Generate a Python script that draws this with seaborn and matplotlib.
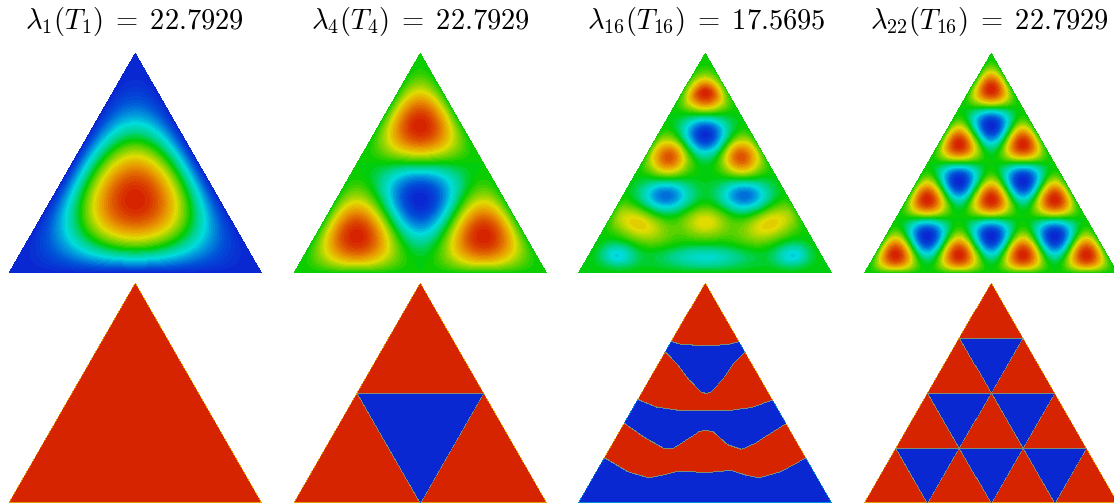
# Eigenfunctions on the equilateral triangle (top) and their sign pattern (bottom)
import numpy as np
import matplotlib
matplotlib.use('Agg')
import matplotlib.pyplot as plt
import seaborn as sns

W, H = 1114, 503
plt.rcParams['mathtext.fontset'] = 'cm'

titles = [r'$\lambda_1(T_1)\;=\;22.7929$', r'$\lambda_4(T_4)\;=\;22.7929$',
          r'$\lambda_{16}(T_{16})\;=\;17.5695$', r'$\lambda_{22}(T_{16})\;=\;22.7929$']
title_x = [134, 420, 706, 989]

# left edge of each triangle in pixels, and the top/bottom of each row
left_px = [8, 293, 578, 864]
side_px = 254
top_rows = (52, 273)
bottom_rows = (282, 503)

# lobes: x, y as fractions of base and height, sign
t1_x = [0.5]
t1_y = [0.333]
t1_amp = [1]
t1_up = [True]
t1_side = 1.0

t4_x = [0.5, 0.25, 0.5, 0.75]
t4_y = [0.667, 0.167, 0.333, 0.167]
t4_amp = [1, 1, -1, 1]
t4_up = [True, True, False, True]
t4_side = 0.5

t22_x = [0.125, 0.375, 0.625, 0.875, 0.25, 0.5, 0.75, 0.25, 0.5, 0.75,
         0.375, 0.625, 0.375, 0.625, 0.5, 0.5]
t22_y = [0.083, 0.083, 0.083, 0.083, 0.167, 0.167, 0.167, 0.333, 0.333, 0.333,
         0.417, 0.417, 0.583, 0.583, 0.667, 0.833]
t22_amp = [1, 1, 1, 1, -1, -1, -1, 1, 1, 1, -1, -1, 1, 1, -1, 1]
t22_up = [True, True, True, True, False, False, False, True, True, True,
          False, False, True, True, False, True]
t22_side = 0.25

# the lambda_16 mode has soft lobes: x, y, amplitude, widths, tilt in degrees
t16_x = [0.5, 0.5, 0.36, 0.64, 0.347, 0.654, 0.238, 0.5, 0.755, 0.154, 0.5, 0.846]
t16_y = [0.814, 0.625, 0.526, 0.526, 0.352, 0.352, 0.224, 0.231, 0.224, 0.08, 0.073, 0.08]
t16_amp = [1.0, -1.0, 0.85, 0.85, -0.72, -0.72, 0.46, 0.42, 0.46, -0.42, -0.36, -0.42]
t16_sx = [0.055, 0.06, 0.052, 0.052, 0.065, 0.065, 0.085, 0.065, 0.085, 0.05, 0.12, 0.05]
t16_sy = [0.06, 0.06, 0.06, 0.06, 0.05, 0.05, 0.05, 0.05, 0.05, 0.038, 0.035, 0.038]
t16_tilt = [0, 0, -20, 20, 0, 0, -28, 0, 28, 0, 0, 0]

# nodal lines of lambda_16, from apex to base
node1_x = [0.371, 0.408, 0.500, 0.587, 0.632]
node1_y = [0.733, 0.721, 0.715, 0.720, 0.733]
node2_x = [0.345, 0.392, 0.441, 0.483, 0.503, 0.524, 0.573, 0.615, 0.655]
node2_y = [0.686, 0.630, 0.555, 0.505, 0.499, 0.505, 0.570, 0.641, 0.683]
node3_x = [0.238, 0.308, 0.406, 0.503, 0.587, 0.685, 0.762]
node3_y = [0.471, 0.438, 0.421, 0.423, 0.421, 0.436, 0.468]
node4_x = [0.185, 0.266, 0.336, 0.371, 0.420, 0.476, 0.503, 0.531, 0.587, 0.643, 0.699, 0.755, 0.818]
node4_y = [0.362, 0.297, 0.252, 0.248, 0.282, 0.327, 0.332, 0.325, 0.267, 0.246, 0.275, 0.317, 0.362]
node5_x = [0.108, 0.196, 0.280, 0.336, 0.399, 0.503, 0.601, 0.657, 0.713, 0.797, 0.895]
node5_y = [0.206, 0.145, 0.117, 0.130, 0.148, 0.141, 0.151, 0.130, 0.117, 0.145, 0.206]
node_x = [node1_x, node2_x, node3_x, node4_x, node5_x]
node_y = [node1_y, node2_y, node3_y, node4_y, node5_y]

jet_stops = ['#0a28d2', '#0050d8', '#0090dc', '#00dcdc', '#00d28c', '#00cd00',
             '#78d200', '#e0dc00', '#e8a000', '#e06000', '#d62400']
cmap_levels = sns.blend_palette(jet_stops, n_colors=48)
node_color = '#7f8c78'


def triangle_grid(n=2):
    nx = side_px * n
    ny = 221 * n
    xs = (np.arange(nx) + 0.5) / nx
    ys = 1 - (np.arange(ny) + 0.5) / ny
    X, Y = np.meshgrid(xs, ys)
    mask = (Y > 2 * X) | (Y > 2 * (1 - X))
    return X, Y, mask


def cell_field(X, Y, xs, ys, amps, ups, side):
    # every lobe fills one small triangular cell with the first mode
    out = np.zeros_like(X)
    for cx, cy, amp, up in zip(xs, ys, amps, ups):
        if up:
            a = (Y - cy) / side + 1 / 3
        else:
            a = (cy - Y) / side + 1 / 3
        b = (X - cx) / side + (1 - a) / 2
        c = 1 - a - b
        inside = (a >= 0) & (b >= 0) & (c >= 0)
        u = np.sin(np.pi * a) * np.sin(np.pi * b) * np.sin(np.pi * c) / 0.6495
        out[inside] = amp * u[inside]
    return out


def soft_field(X, Y):
    out = np.zeros_like(X)
    for cx, cy, amp, sx, sy, tilt in zip(t16_x, t16_y, t16_amp, t16_sx, t16_sy, t16_tilt):
        t = np.radians(tilt)
        u = (X - cx) * np.cos(t) + (Y - cy) * np.sin(t)
        v = -(X - cx) * np.sin(t) + (Y - cy) * np.cos(t)
        out += amp * np.exp(-(u / sx) ** 2 / 2 - (v / sy) ** 2 / 2)
    # fades to zero on the triangle's sides only
    a = Y
    b = np.clip(X - Y / 2, 0, 1)
    c = np.clip(1 - a - b, 0, 1)
    return out * np.clip(6 * 27 * a * b * c, 0, 1) ** 0.5


def node_labels(X, Y):
    # count how many nodal lines lie above a point: even is red, odd is blue
    count = np.zeros_like(X, dtype=int)
    for lx, ly in zip(node_x, node_y):
        count += Y < np.interp(X, lx, ly)
    return np.where(count % 2 == 0, 1.0, -1.0)


def draw(field, mask, left, rows, vmin=-1):
    ax = fig.add_axes([left / W, 1 - rows[1] / H, side_px / W, (rows[1] - rows[0]) / H])
    sns.heatmap(field, mask=mask, cmap=cmap_levels, vmin=vmin, vmax=1, cbar=False,
                xticklabels=False, yticklabels=False, ax=ax)
    ax.axis('off')
    return ax


def draw_signs(labels, mask, left, rows):
    # red/blue pattern, a pale fringe on the outer edge and thin grey nodal lines
    edge = np.minimum.reduce([2 * X - Y, 2 * (1 - X) - Y, Y])
    shown = np.where(edge < 0.006, labels * 0.6, labels)
    ax = draw(shown, mask, left, rows)
    cut = labels != np.roll(labels, 1, axis=1)
    cut |= labels != np.roll(labels, 1, axis=0)
    cut[0, :] = False
    cut[:, 0] = False
    cut |= np.roll(cut, 1, axis=0)
    cut &= ~mask
    sns.heatmap(np.ones_like(labels), mask=~cut, cmap=[node_color], cbar=False,
                xticklabels=False, yticklabels=False, ax=ax)
    ax.axis('off')


fig = plt.figure(figsize=(W / 100, H / 100), dpi=100, facecolor='white')
X, Y, mask = triangle_grid()

f1 = cell_field(X, Y, t1_x, t1_y, t1_amp, t1_up, t1_side)
f4 = cell_field(X, Y, t4_x, t4_y, t4_amp, t4_up, t4_side)
f16 = soft_field(X, Y)
f22 = cell_field(X, Y, t22_x, t22_y, t22_amp, t22_up, t22_side)

draw(f1, mask, left_px[0], top_rows, vmin=0)
draw(f4, mask, left_px[1], top_rows)
draw(f16, mask, left_px[2], top_rows)
draw(f22, mask, left_px[3], top_rows)

# small values near the sides belong to the cell they touch
sign1 = np.where(f1 >= 0, 1.0, -1.0)
sign4 = np.where(f4 >= 0, 1.0, -1.0)
sign22 = np.where(f22 >= 0, 1.0, -1.0)
draw_signs(sign1, mask, left_px[0], bottom_rows)
draw_signs(sign4, mask, left_px[1], bottom_rows)
draw_signs(node_labels(X, Y), mask, left_px[2], bottom_rows)
draw_signs(sign22, mask, left_px[3], bottom_rows)

for t, x in zip(titles, title_x):
    fig.text(x / W, 1 - 22 / H, t, ha='center', va='center', fontsize=20.5)

fig.savefig('out.png', dpi=100)
